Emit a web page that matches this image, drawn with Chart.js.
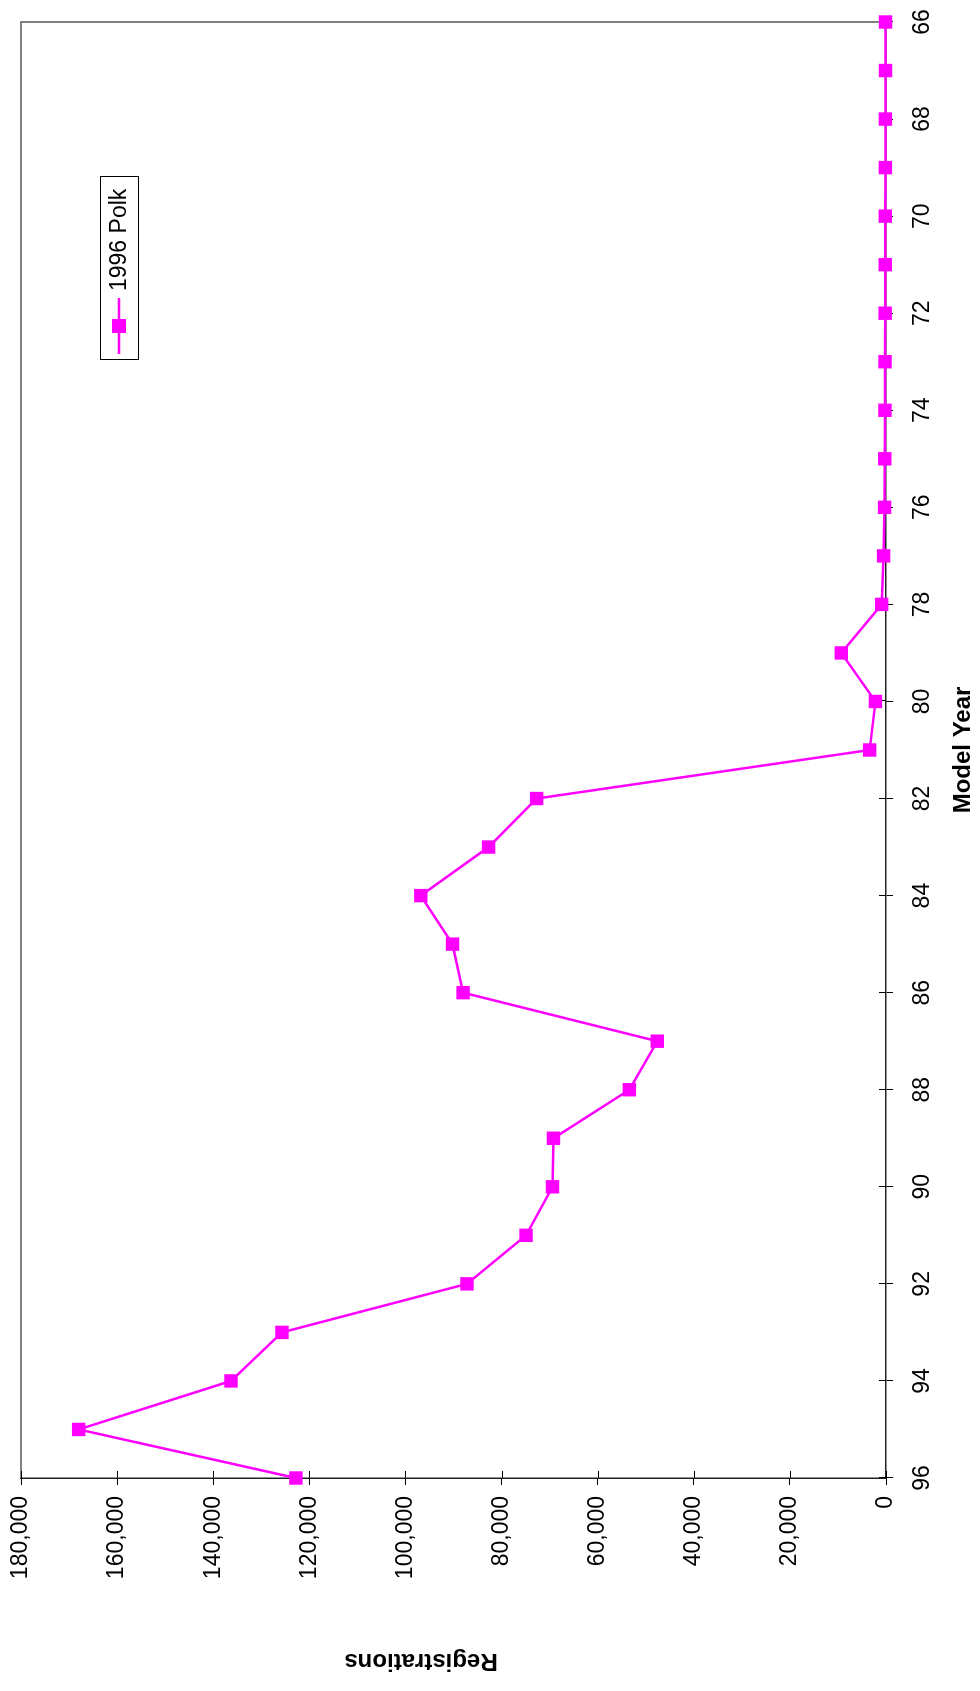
<!DOCTYPE html>
<html>
<head>
<meta charset="utf-8">
<script src="https://cdn.jsdelivr.net/npm/chart.js@4.4.1/dist/chart.umd.min.js"></script>
<style>
	html, body { margin: 0; padding: 0; background: #fff; overflow: hidden; }
	/* Le graphique d'origine est tourné d'un quart de tour vers la gauche */
	#tourne { position: absolute; left: 0; top: 0; width: 1691px; height: 980px; transform-origin: 0 0; transform: translateY(1691px) rotate(-90deg); }
</style>
</head>
<body>
<div id="tourne"><canvas id="graphique" width="1691" height="980"></canvas></div>
<script>
// Données
const annees = ["66", "67", "68", "69", "70", "71", "72", "73", "74", "75", "76", "77", "78", "79", "80",
	"81", "82", "83", "84", "85", "86", "87", "88", "89", "90", "91", "92", "93", "94", "95", "96"];
const immatriculations = [100, 100, 120, 130, 150, 160, 180, 200, 220, 250, 300, 500, 900, 9300, 2200,
	3400, 72700, 82700, 96800, 90200, 88000, 47600, 53400, 69200, 69400, 74900, 87200, 125700, 136300, 168000, 122800];
const nomSerie = "1996 Polk";
const titreX = "Model Year";
const titreY = "Registrations";
const valeurMax = 180000;
const pasY = 20000;

const police = "'Liberation Sans', Arial, sans-serif";
const magenta = "#FF00FF";

// Petits traits de graduation côté intérieur + cadre gris haut/droite
const ticksInterieurs = {
	id: "ticksInterieurs",
	beforeDatasetsDraw(chart) {
		const { ctx, chartArea, scales } = chart;
		ctx.save();
		ctx.strokeStyle = "#808080";
		ctx.lineWidth = 2;
		ctx.beginPath();
		ctx.moveTo(chartArea.left, chartArea.top);
		ctx.lineTo(chartArea.right, chartArea.top);
		ctx.lineTo(chartArea.right, chartArea.bottom);
		ctx.stroke();

		ctx.strokeStyle = "#000";
		ctx.lineWidth = 1;
		ctx.beginPath();
		for (let i = 0; i < scales.x.ticks.length; i++) {
			if (Number(annees[i]) % 2 !== 0) continue;
			const px = Math.round(scales.x.getPixelForTick(i)) + 0.5;
			ctx.moveTo(px, chartArea.bottom);
			ctx.lineTo(px, chartArea.bottom - 7);
		}
		for (let i = 0; i < scales.y.ticks.length; i++) {
			const py = Math.round(scales.y.getPixelForTick(i)) + 0.5;
			ctx.moveTo(chartArea.left, py);
			ctx.lineTo(chartArea.left + 7, py);
		}
		ctx.stroke();

		// Titre de l'axe des valeurs, un peu décalé vers le haut comme sur l'original
		ctx.fillStyle = "#000";
		ctx.font = "bold 24px " + police;
		ctx.textAlign = "center";
		ctx.textBaseline = "middle";
		ctx.translate(30, 421);
		ctx.rotate(-Math.PI / 2);
		ctx.fillText(titreY, 0, 0);
		ctx.restore();
	}
};

// Légende encadrée placée dans la zone du graphique
const legendeInterne = {
	id: "legendeInterne",
	afterDatasetsDraw(chart) {
		const ctx = chart.ctx;
		const ds = chart.data.datasets[0];
		const x = 1331, y = 100, w = 183, h = 38;
		const cy = y + h / 2;
		ctx.save();
		ctx.fillStyle = "#fff";
		ctx.fillRect(x, y, w, h);
		ctx.strokeStyle = "#000";
		ctx.lineWidth = 1;
		ctx.strokeRect(x + 0.5, y + 0.5, w, h);
		ctx.strokeStyle = ds.borderColor;
		ctx.lineWidth = ds.borderWidth;
		ctx.beginPath();
		ctx.moveTo(x + 6, cy);
		ctx.lineTo(x + 62, cy);
		ctx.stroke();
		ctx.fillStyle = ds.pointBackgroundColor;
		ctx.fillRect(x + 34 - 7, cy - 7, 14, 14);
		ctx.fillStyle = "#000";
		ctx.font = "23px " + police;
		ctx.textBaseline = "middle";
		ctx.fillText(ds.label, x + 69, cy + 1);
		ctx.restore();
	}
};

const data = {
	labels: annees,
	datasets: [{
		label: nomSerie,
		data: immatriculations,
		borderColor: magenta,
		backgroundColor: magenta,
		pointBackgroundColor: magenta,
		pointBorderColor: magenta,
		borderWidth: 2.5,
		pointStyle: "rect",
		pointRadius: 9.5,
		pointBorderWidth: 0,
		tension: 0,
		fill: false,
		clip: false,
	}],
};

const config = {
	type: "line",
	data: data,
	options: {
		responsive: false,
		devicePixelRatio: 1,
		animation: false,
		layout: { padding: { top: 21, right: 22, left: 0, bottom: 0 } },
		plugins: {
			legend: { display: false },
			tooltip: { enabled: false },
		},
		scales: {
			x: {
				reverse: true,
				offset: false,
				afterFit: (s) => { s.height = 94; s.paddingLeft = 0; s.paddingRight = 0; },
				grid: {
					drawOnChartArea: false,
					tickLength: 7,
					lineWidth: 1,
					color: (c) => Number(annees[c.index]) % 2 === 0 ? "#000" : "rgba(0,0,0,0)",
				},
				border: { color: "#222", width: 1.5 },
				ticks: {
					autoSkip: false,
					maxRotation: 0,
					padding: 16,
					color: "#000",
					font: { family: police, size: 23 },
					callback: function (v, i) {
						return Number(annees[i]) % 2 === 0 ? annees[i] : "";
					},
				},
				title: {
					display: true,
					text: titreX,
					color: "#000",
					font: { family: police, size: 24, weight: "bold" },
					padding: { top: 0, bottom: 2 },
				},
			},
			y: {
				min: 0,
				max: valeurMax,
				afterFit: (s) => { s.width = 213; s.paddingTop = 0; s.paddingBottom = 0; },
				grid: { drawOnChartArea: false, tickLength: 7, lineWidth: 1, color: "#000" },
				border: { color: "#222", width: 1.5 },
				ticks: {
					stepSize: pasY,
					padding: 11,
					color: "#000",
					font: { family: police, size: 23 },
					callback: (v) => v.toLocaleString("en-US"),
				},
			},
		},
	},
	plugins: [ticksInterieurs, legendeInterne],
};

const graphique = new Chart(document.querySelector("#graphique"), config);
</script>
</body>
</html>
